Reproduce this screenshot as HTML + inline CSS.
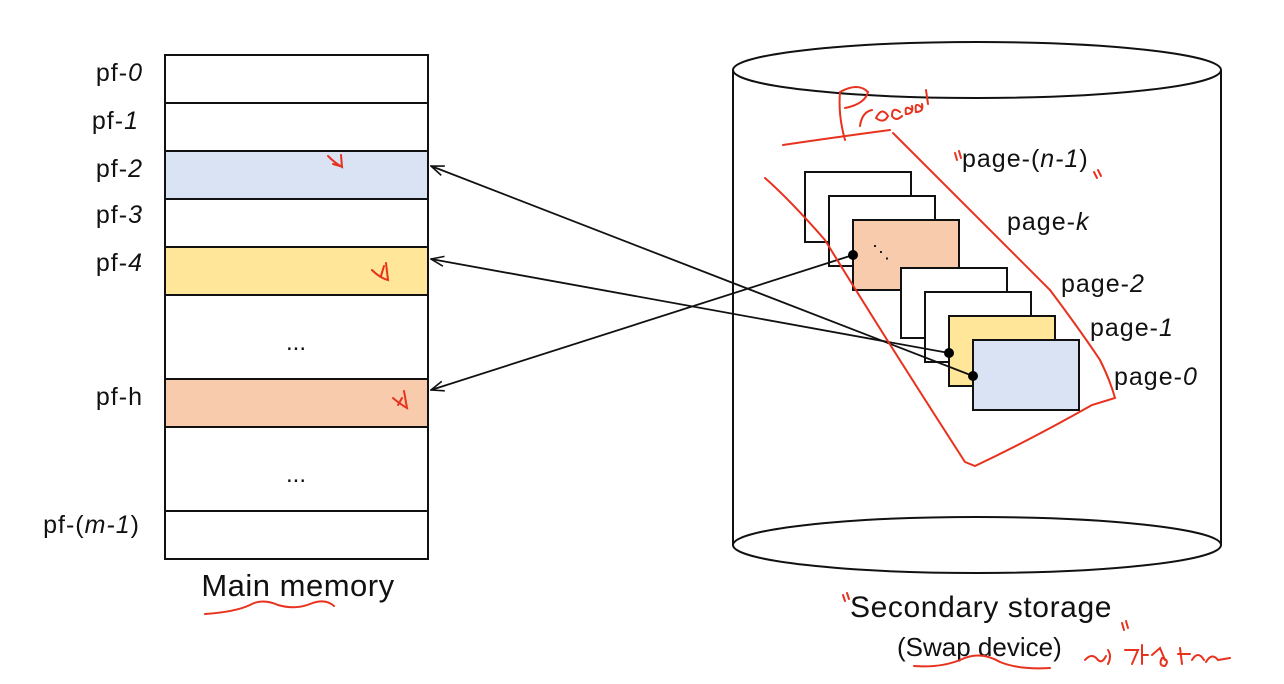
<!DOCTYPE html>
<html><head><meta charset="utf-8"><style>
html,body{margin:0;padding:0;background:#fff;}
svg{display:block;}
text{font-family:"Liberation Sans","Noto Sans CJK KR",sans-serif;fill:#111;}
</style></head><body>
<svg width="1284" height="684" viewBox="0 0 1284 684" xmlns="http://www.w3.org/2000/svg">
<defs>
<marker id="ah" markerWidth="14" markerHeight="12" refX="13" refY="6" orient="auto" markerUnits="userSpaceOnUse">
<path d="M0,1 L13,6 L0,11" fill="none" stroke="#111" stroke-width="1.6"/>
</marker>
</defs>
<g stroke="#111" stroke-width="2">
<rect x="165" y="55" width="263" height="48" fill="#fff"/>
<rect x="165" y="103" width="263" height="48" fill="#fff"/>
<rect x="165" y="151" width="263" height="48" fill="#dae3f3"/>
<rect x="165" y="199" width="263" height="48" fill="#fff"/>
<rect x="165" y="247" width="263" height="48" fill="#ffe699"/>
<rect x="165" y="295" width="263" height="84" fill="#fff"/>
<rect x="165" y="379" width="263" height="48" fill="#f8cbad"/>
<rect x="165" y="427" width="263" height="84" fill="#fff"/>
<rect x="165" y="511" width="263" height="48" fill="#fff"/>
</g>
<g font-size="25" text-anchor="end" letter-spacing="1">
<text x="143" y="81">pf-<tspan font-style="italic">0</tspan></text>
<text x="139" y="129">pf-<tspan font-style="italic">1</tspan></text>
<text x="143" y="177">pf-<tspan font-style="italic">2</tspan></text>
<text x="143" y="223">pf-<tspan font-style="italic">3</tspan></text>
<text x="143" y="271">pf-<tspan font-style="italic">4</tspan></text>
<text x="143" y="405">pf-h</text>
<text x="140" y="533">pf-(<tspan font-style="italic">m-1</tspan>)</text>
</g>
<text x="296" y="350" font-size="24" text-anchor="middle">...</text>
<text x="296" y="482" font-size="24" text-anchor="middle">...</text>
<text x="298" y="596" font-size="31" text-anchor="middle" letter-spacing="0.5">Main memory</text>

<g stroke="#111" stroke-width="2" fill="none">
<ellipse cx="977" cy="70" rx="244" ry="28" fill="#fff"/>
<line x1="733" y1="70" x2="733" y2="545"/>
<line x1="1221" y1="70" x2="1221" y2="545"/>
<ellipse cx="977" cy="545" rx="244" ry="28" fill="#fff"/>
</g>

<g stroke="#111" stroke-width="2">
<rect x="805" y="172" width="106" height="70" fill="#fff"/>
<rect x="829" y="196" width="106" height="70" fill="#fff"/>
<rect x="853" y="220" width="106" height="70" fill="#f8cbad"/>
<rect x="901" y="268" width="106" height="70" fill="#fff"/>
<rect x="925" y="292" width="106" height="70" fill="#fff"/>
<rect x="949" y="316" width="106" height="70" fill="#ffe699"/>
<rect x="973" y="340" width="106" height="70" fill="#dae3f3"/>
</g>
<text x="872" y="258" font-size="18">⋱</text>

<g font-size="25" letter-spacing="1">
<text x="962" y="167">page-(<tspan font-style="italic">n-1</tspan>)</text>
<text x="1007" y="230">page-<tspan font-style="italic">k</tspan></text>
<text x="1061" y="292">page-<tspan font-style="italic">2</tspan></text>
<text x="1090" y="336">page-<tspan font-style="italic">1</tspan></text>
<text x="1114" y="385">page-<tspan font-style="italic">0</tspan></text>
</g>

<g stroke="#111" stroke-width="1.8" fill="none">
<line x1="853" y1="255" x2="431" y2="390" marker-end="url(#ah)"/>
<line x1="949" y1="353" x2="431" y2="259" marker-end="url(#ah)"/>
<line x1="973" y1="376" x2="431" y2="166" marker-end="url(#ah)"/>
</g>
<circle cx="853" cy="255" r="5" fill="#000"/>
<circle cx="949" cy="353" r="5" fill="#000"/>
<circle cx="973" cy="376" r="5" fill="#000"/>

<text x="850" y="617" font-size="30" letter-spacing="0.6">Secondary storage</text>
<text x="897" y="656" font-size="26">(Swap device)</text>

<g stroke="#e8321e" stroke-width="2" fill="none" stroke-linecap="round">
<path d="M783,145 Q830,138 890,130"/>
<path d="M845,140 Q838,115 840,92 Q858,82 868,92 Q865,104 845,108 M860,126 Q862,112 872,110 M876,118 Q882,106 888,116 Q884,124 876,118 M900,112 Q892,106 892,116 Q896,122 902,116 M912,110 Q904,104 906,114 Q914,114 912,106 M922,108 Q914,100 916,112 Q924,112 922,104 M926,90 L928,104"/>
<path d="M893,133 Q960,200 1050,290 Q1080,330 1100,360 Q1110,380 1115,398 L1092,405 Q1030,440 975,466 L965,462 Q880,330 825,240 Q790,200 765,178"/>
<path d="M955,153 L957,160 M959,151 L961,158"/>
<path d="M1094,172 L1097,178 M1098,170 L1101,176"/>
<path d="M328,156 Q335,163 342,167 L341,155 M333,164 L340,166"/>
<path d="M372,270 Q380,278 388,280 L386,263 M381,276 L384,266"/>
<path d="M393,398 Q400,404 407,408 L404,391 M398,405 L402,398"/>
<path d="M205,614 Q235,612 250,605 Q262,598 278,605 Q295,610 310,604 Q325,598 334,606"/>
<path d="M914,666 Q940,668 960,660 Q980,650 1000,662 Q1020,670 1050,668"/>
<path d="M843,595 L845,601 M847,593 L849,599"/>
<path d="M1122,623 L1124,630 M1126,621 L1128,628"/>
<path d="M1085,660 Q1092,652 1098,660 Q1102,664 1106,656 M1108,650 Q1112,656 1108,664 M1125,650 L1138,650 L1132,664 M1142,645 L1142,664 M1142,655 L1148,655 M1152,655 L1160,648 L1165,660 M1162,658 Q1158,666 1165,666 Q1170,660 1162,658 M1180,648 L1182,664 M1178,654 L1190,654 M1192,660 Q1198,650 1204,660 M1206,662 Q1212,652 1218,660 L1230,658"/>
</g>
</svg>
</body></html>
